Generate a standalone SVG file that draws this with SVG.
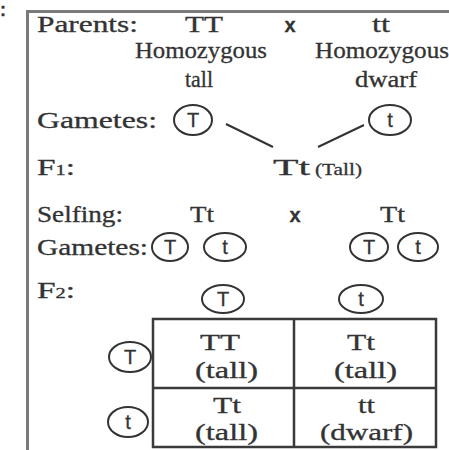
<svg xmlns="http://www.w3.org/2000/svg" width="449" height="450" viewBox="0 0 449 450">
<style>
text{font-family:"Liberation Serif","Times New Roman",serif;fill:#333;stroke:#333;stroke-width:0.3;font-size:23px}
.s{font-size:16px}
.c{font-family:"Liberation Sans",Arial,sans-serif;font-size:20px;text-anchor:middle}
.x{font-family:"Liberation Sans",Arial,sans-serif;font-weight:bold;font-size:20px;text-anchor:middle}
.g{fill:none;stroke:#333;stroke-width:2}
.t{fill:none;stroke:#3a3a3a;stroke-width:2.5}
</style>
<rect width="449" height="450" fill="#fff"/>
<text x="0" y="16" style="font-weight:bold;font-size:18px;font-family:'Liberation Sans',sans-serif">:</text>
<path d="M27.5 450V11.5H449" fill="none" stroke="#7a7a7a" stroke-width="3"/>
<g id="parents">
<text x="37" y="32" textLength="101" lengthAdjust="spacingAndGlyphs">Parents:</text>
<text x="185" y="32" textLength="38" lengthAdjust="spacingAndGlyphs">TT</text>
<text class="x" x="290" y="32">x</text>
<text x="372" y="32" textLength="18" lengthAdjust="spacingAndGlyphs">tt</text>
<text x="135" y="58" textLength="132" lengthAdjust="spacingAndGlyphs">Homozygous</text>
<text x="185" y="87" textLength="28" lengthAdjust="spacingAndGlyphs">tall</text>
<text x="315" y="58" textLength="134" lengthAdjust="spacingAndGlyphs">Homozygous</text>
<text x="355" y="87" textLength="62" lengthAdjust="spacingAndGlyphs">dwarf</text>
</g>
<g id="gametes1">
<text x="37" y="128" textLength="120" lengthAdjust="spacingAndGlyphs">Gametes:</text>
<ellipse class="g" cx="193" cy="120" rx="19" ry="15"/><text class="c" x="193" y="127">T</text>
<ellipse class="g" cx="390" cy="120" rx="21" ry="15"/><text class="c" x="390" y="127">t</text>
</g>
<g id="connectors">
<path class="g" d="M226 124L273 147M364 125L318 147"/>
</g>
<g id="f1">
<text x="37" y="175" textLength="38" lengthAdjust="spacingAndGlyphs">F<tspan style="font-size:14px">1</tspan>:</text>
<text x="273" y="175" textLength="37" lengthAdjust="spacingAndGlyphs">Tt</text>
<text class="s" x="315" y="175" textLength="47" lengthAdjust="spacingAndGlyphs">(Tall)</text>
</g>
<g id="selfing">
<text x="37" y="222" textLength="86" lengthAdjust="spacingAndGlyphs">Selfing:</text>
<text x="190" y="222" textLength="24" lengthAdjust="spacingAndGlyphs">Tt</text>
<text class="x" x="295" y="222">x</text>
<text x="380" y="222" textLength="25" lengthAdjust="spacingAndGlyphs">Tt</text>
</g>
<g id="gametes2">
<text x="37" y="255" textLength="111" lengthAdjust="spacingAndGlyphs">Gametes:</text>
<ellipse class="g" cx="170" cy="247" rx="18" ry="14"/><text class="c" x="170" y="254">T</text>
<ellipse class="g" cx="225" cy="247" rx="21" ry="14"/><text class="c" x="225" y="254">t</text>
<ellipse class="g" cx="369" cy="247" rx="19" ry="14"/><text class="c" x="369" y="254">T</text>
<ellipse class="g" cx="418" cy="247" rx="20" ry="14"/><text class="c" x="418" y="254">t</text>
</g>
<g id="f2">
<text x="37" y="298" textLength="38" lengthAdjust="spacingAndGlyphs">F<tspan style="font-size:14px">2</tspan>:</text>
<ellipse class="g" cx="223" cy="299" rx="21" ry="14"/><text class="c" x="223" y="306">T</text>
<ellipse class="g" cx="361" cy="299" rx="22" ry="14"/><text class="c" x="361" y="306">t</text>
</g>
<g id="punnett">
<rect class="t" x="153" y="319" width="283" height="128"/>
<path class="t" d="M294 319V447M153 388H436"/>
<ellipse class="g" cx="130" cy="357" rx="21" ry="15"/><text class="c" x="130" y="364">T</text>
<ellipse class="g" cx="128" cy="422" rx="20" ry="15"/><text class="c" x="128" y="429">t</text>
<text x="200" y="350" textLength="40" lengthAdjust="spacingAndGlyphs">TT</text>
<text x="195" y="378" textLength="63" lengthAdjust="spacingAndGlyphs">(tall)</text>
<text x="347" y="350" textLength="28" lengthAdjust="spacingAndGlyphs">Tt</text>
<text x="334" y="378" textLength="63" lengthAdjust="spacingAndGlyphs">(tall)</text>
<text x="213" y="413" textLength="28" lengthAdjust="spacingAndGlyphs">Tt</text>
<text x="195" y="440" textLength="63" lengthAdjust="spacingAndGlyphs">(tall)</text>
<text x="358" y="413" textLength="17" lengthAdjust="spacingAndGlyphs">tt</text>
<text x="320" y="440" textLength="93" lengthAdjust="spacingAndGlyphs">(dwarf)</text>
</g>
</svg>
